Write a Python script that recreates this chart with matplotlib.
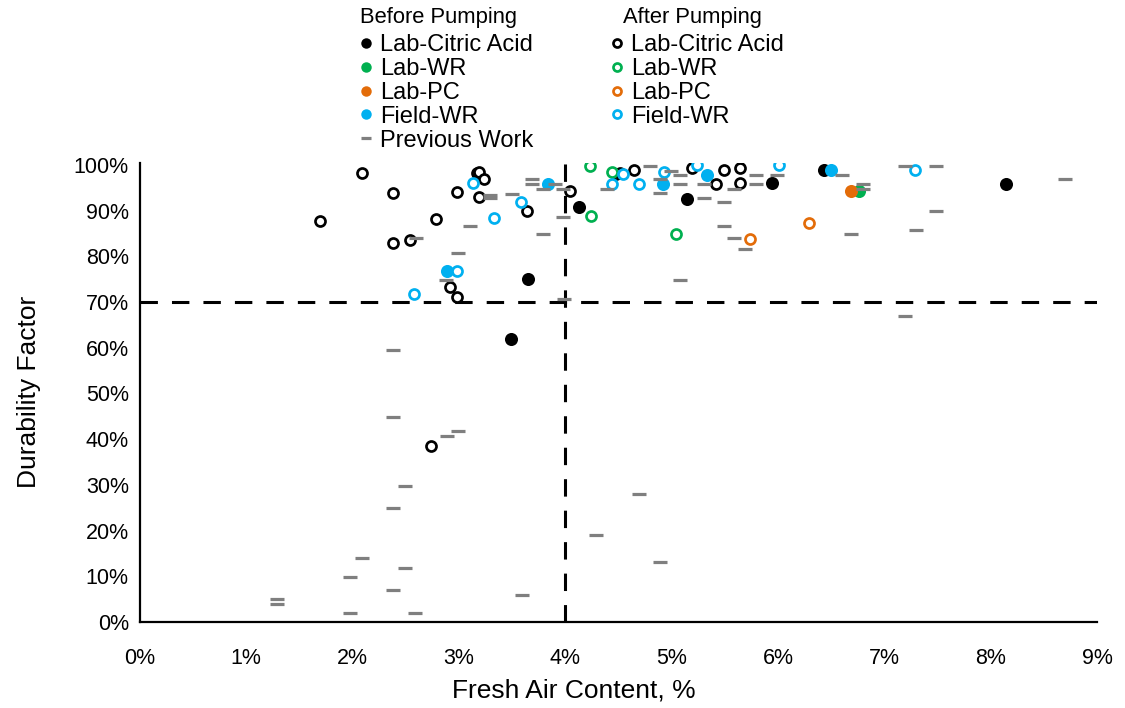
import matplotlib
matplotlib.use("Agg")
import matplotlib.pyplot as plt
from matplotlib.ticker import PercentFormatter, MultipleLocator

plt.rcParams['font.family'] = ['Liberation Sans', 'DejaVu Sans']

# Fresh air content (%) and durability factor (%) for each test group
before_citric_x = [4.13, 3.65, 3.49, 5.14, 5.94, 8.14, 6.43]
before_citric_y = [90.8, 75.1, 61.9, 92.6, 96.1, 95.8, 98.9]

before_wr_x = [6.76]
before_wr_y = [94.2]

before_pc_x = [6.69]
before_pc_y = [94.2]

before_field_x = [2.89, 3.84, 4.92, 5.33, 6.50]
before_field_y = [76.8, 95.8, 95.8, 97.7, 98.8]

after_citric_x = [2.09, 2.38, 1.69, 2.78, 2.38, 2.54, 2.98, 3.17, 3.19, 3.24, 3.19,
                  3.64, 4.04, 4.48, 4.51, 4.65, 5.19, 5.49, 5.42, 5.64, 5.64,
                  2.74, 2.92, 2.98]
after_citric_y = [98.2, 93.9, 87.7, 88.1, 82.9, 83.6, 94.1, 98.2, 98.4, 96.9, 93.1,
                  89.9, 94.2, 98.0, 98.2, 98.9, 99.3, 98.9, 95.8, 99.3, 96.0,
                  38.6, 73.2, 71.2]

after_wr_x = [4.23, 4.24, 4.44, 5.04]
after_wr_y = [99.8, 88.9, 98.4, 84.8]

after_pc_x = [5.74, 6.29]
after_pc_y = [83.8, 87.2]

after_field_x = [2.58, 2.98, 3.13, 3.33, 3.58, 4.44, 4.54, 4.69, 4.93, 5.24, 6.01, 7.29]
after_field_y = [71.8, 76.9, 96.1, 88.5, 92.0, 95.8, 98.0, 95.8, 98.4, 100.0, 100.0, 98.8]

previous_x = [1.29, 1.29, 1.98, 1.98, 2.09, 2.38, 2.38, 2.38, 2.38, 2.49, 2.49, 2.59,
              2.60, 2.89, 2.99, 2.88, 2.99, 3.10, 3.29, 3.29, 3.50, 3.59, 3.69, 3.69,
              3.79, 3.79, 3.90, 3.98, 3.98, 3.99, 4.29, 4.39, 4.69, 4.80, 4.89, 4.89,
              4.89, 4.99, 5.08, 5.08, 5.08, 5.30, 5.30, 5.49, 5.49, 5.59, 5.59, 5.69,
              5.79, 5.79, 5.99, 6.60, 6.80, 6.80, 6.69, 7.19, 7.19, 7.30, 7.49, 7.49,
              8.70]
previous_y = [5.0, 3.9, 9.9, 2.0, 13.9, 59.6, 44.8, 25.0, 7.0, 29.8, 11.8, 2.0,
              84.0, 40.8, 41.8, 74.8, 80.8, 86.7, 93.4, 92.7, 93.7, 5.8, 96.9, 95.8,
              94.7, 84.9, 95.8, 94.7, 88.7, 70.7, 19.0, 94.7, 28.0, 99.8, 96.9, 93.8,
              13.1, 98.7, 97.8, 95.8, 74.8, 95.8, 92.7, 92.0, 86.7, 94.7, 84.0, 81.7,
              97.8, 95.8, 97.8, 97.8, 95.8, 94.7, 84.8, 99.8, 67.0, 85.8, 99.8, 89.9,
              96.9]

air_limit = 4.0
durability_limit = 70.0

BLACK = "#000000"
GREEN = "#00B050"
ORANGE = "#E36C09"
BLUE = "#00B0F0"
GREY = "#7F7F7F"

W, H = 1125, 708
fig = plt.figure(figsize=(W / 100, H / 100), dpi=100)
ax = fig.add_axes([0.1244, 0.1215, 0.8507, 0.6487])

# Reference limits
ax.axhline(durability_limit, color="black", lw=2.2, ls=(0, (5.7, 4.6)), zorder=1)
ax.axvline(air_limit, color="black", lw=2.2, ls=(0, (5.7, 4.6)), zorder=1)

filled_ms = 9.4
open_ms = 7.2
open_mew = 1.95

h_b_cit, = ax.plot(before_citric_x, before_citric_y, 'o', ls='none', color=BLACK,
                   ms=filled_ms, mew=0, zorder=3, label="Lab-Citric Acid")
h_b_wr, = ax.plot(before_wr_x, before_wr_y, 'o', ls='none', color=GREEN,
                  ms=filled_ms, mew=0, zorder=3, label="Lab-WR")
h_b_pc, = ax.plot(before_pc_x, before_pc_y, 'o', ls='none', color=ORANGE,
                  ms=filled_ms, mew=0, zorder=3, label="Lab-PC")
h_b_fd, = ax.plot(before_field_x, before_field_y, 'o', ls='none', color=BLUE,
                  ms=filled_ms, mew=0, zorder=3, label="Field-WR")

h_a_cit, = ax.plot(after_citric_x, after_citric_y, 'o', ls='none', mfc='white', mec=BLACK,
                   ms=open_ms, mew=open_mew, zorder=4, label="Lab-Citric Acid")
h_a_wr, = ax.plot(after_wr_x, after_wr_y, 'o', ls='none', mfc='white', mec=GREEN,
                  ms=open_ms, mew=open_mew, zorder=4, label="Lab-WR")
h_a_pc, = ax.plot(after_pc_x, after_pc_y, 'o', ls='none', mfc='white', mec=ORANGE,
                  ms=open_ms, mew=open_mew, zorder=4, label="Lab-PC")
h_a_fd, = ax.plot(after_field_x, after_field_y, 'o', ls='none', mfc='white', mec=BLUE,
                  ms=open_ms, mew=open_mew, zorder=4, label="Field-WR")

h_prev, = ax.plot(previous_x, previous_y, '_', ls='none', color=GREY,
                  ms=9.4, mew=2.3, zorder=5, label="Previous Work")

ax.set_xlim(0, 9)
ax.set_ylim(0, 100.5)
ax.xaxis.set_major_locator(MultipleLocator(1))
ax.yaxis.set_major_locator(MultipleLocator(10))
ax.xaxis.set_major_formatter(PercentFormatter(100, decimals=0))
ax.yaxis.set_major_formatter(PercentFormatter(100, decimals=0))
ax.tick_params(length=0, labelsize=15.5, colors="black")
ax.tick_params(axis="x", pad=19)
ax.tick_params(axis="y", pad=8)

for side in ("top", "right"):
    ax.spines[side].set_visible(False)
for side in ("left", "bottom"):
    ax.spines[side].set_linewidth(1.6)
    ax.spines[side].set_color("black")

ax.set_xlabel("Fresh Air Content, %", fontsize=19)
ax.set_ylabel("Durability Factor", fontsize=19)
ax.xaxis.set_label_coords(0.4535, -0.122)
ax.yaxis.set_label_coords(-0.1035, 0.5)

# Two legend columns, each headed by its own title
fig.text(360 / W, 1 - 18 / H, "Before Pumping", fontsize=15.8, ha="left", va="center")
fig.text(623 / W, 1 - 18 / H, "After Pumping", fontsize=15.8, ha="left", va="center")

legend_kw = dict(frameon=False, fontsize=17, markerscale=0.8,
                 handlelength=0.6, handletextpad=0.3, labelspacing=0.08,
                 borderpad=0, borderaxespad=0,
                 bbox_transform=fig.transFigure, loc='upper left')
leg1 = ax.legend(handles=[h_b_cit, h_b_wr, h_b_pc, h_b_fd, h_prev],
                 bbox_to_anchor=(359 / W, 1 - 34 / H), **legend_kw)
ax.add_artist(leg1)
leg2 = ax.legend(handles=[h_a_cit, h_a_wr, h_a_pc, h_a_fd],
                 bbox_to_anchor=(610 / W, 1 - 34 / H), **legend_kw)

fig.savefig("out.png", dpi=100)
